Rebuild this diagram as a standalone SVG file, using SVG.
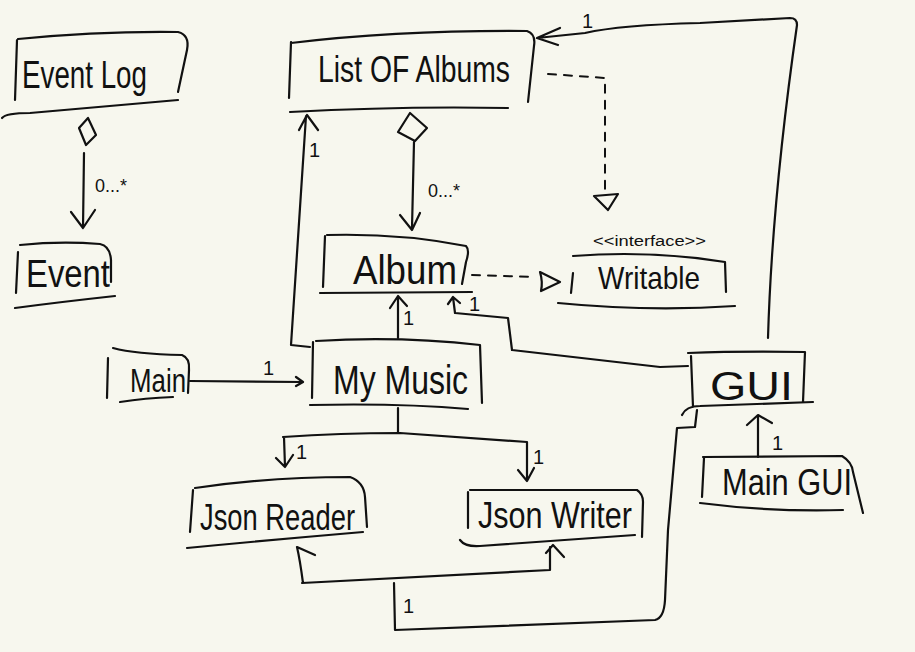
<svg xmlns="http://www.w3.org/2000/svg" width="915" height="652" viewBox="0 0 915 652">
<style>
.s{fill:none;stroke:#111;stroke-width:2.2;stroke-linecap:round;stroke-linejoin:round}
.d{fill:none;stroke:#111;stroke-width:2;stroke-linecap:round;stroke-dasharray:8 8}
.t{font-family:"Liberation Sans",Arial,sans-serif;fill:#111}
.n{font-family:"Liberation Sans",Arial,sans-serif;fill:#111;font-size:20px}
</style>
<rect width="915" height="652" fill="#f7f7ee"/>

<g id="eventlog">
<path class="s" d="M17,40 L15,100 M18,39 Q100,31 178,32 Q190,35 187,50 L178,92 M2,118 Q6,113 30,113 L178,100"/>
<text class="t" x="22" y="88" font-size="38" textLength="125" lengthAdjust="spacingAndGlyphs">Event Log</text>
</g>
<g id="event">
<path class="s" d="M18,252 L16,293 M20,245 Q60,241 100,244 Q110,246 111,260 L111,282 M15,308 Q60,302 115,296"/>
<text class="t" x="26" y="287" font-size="38" textLength="84" lengthAdjust="spacingAndGlyphs">Event</text>
</g>
<g id="listofalbums">
<path class="s" d="M291,42 L289,98 M291,43 Q400,30 527,31 Q536,34 534,46 L528,102 M290,112 Q400,106 508,108"/>
<text class="t" x="318" y="82" font-size="36" textLength="192" lengthAdjust="spacingAndGlyphs">List OF Albums</text>
</g>
<g id="album">
<path class="s" d="M325,236 L323,287 M327,235 Q400,233 466,246 Q470,250 466,262 L462,284 M320,293 L472,292"/>
<text class="t" x="353" y="284" font-size="40" textLength="104" lengthAdjust="spacingAndGlyphs">Album</text>
</g>
<g id="writable">
<text class="t" x="593" y="246" font-size="14" textLength="113" lengthAdjust="spacingAndGlyphs">&lt;&lt;interface&gt;&gt;</text>
<path class="s" d="M573,273 L571,293 M573,256 Q650,250 725,262 L726,292 M558,303 Q650,312 735,306"/>
<text class="t" x="598" y="289" font-size="32" textLength="102" lengthAdjust="spacingAndGlyphs">Writable</text>
</g>
<g id="mymusic">
<path class="s" d="M313,342 L312,398 M316,341 Q400,336 480,345 L482,403 M310,405 Q400,403 468,409"/>
<text class="t" x="333" y="394" font-size="40" textLength="135" lengthAdjust="spacingAndGlyphs">My Music</text>
</g>
<g id="main">
<path class="s" d="M108,358 L107,398 M113,348 Q135,354 182,355 Q190,358 189,370 L188,393 M120,402 Q145,398 173,397"/>
<text class="t" x="130" y="392" font-size="34" textLength="56" lengthAdjust="spacingAndGlyphs">Main</text>
</g>
<g id="gui">
<path class="s" d="M691,356 L693,407 M688,353 Q740,351 805,352 L803,402 M682,415 Q686,406 700,406 L813,402"/>
<text class="t" x="710" y="400" font-size="40" textLength="83" lengthAdjust="spacingAndGlyphs">GUI</text>
</g>
<g id="maingui">
<path class="s" d="M704,458 L702,497 M703,457 L842,456 Q852,462 853,472 L863,513 M700,503 Q770,512 843,510"/>
<text class="t" x="722" y="495" font-size="36" textLength="130" lengthAdjust="spacingAndGlyphs">Main GUI</text>
</g>
<g id="jsonreader">
<path class="s" d="M193,490 L190,532 M195,488 Q270,477 350,477 Q364,482 365,497 L367,527 M187,548 Q270,540 363,532"/>
<text class="t" x="200" y="530" font-size="36" textLength="155" lengthAdjust="spacingAndGlyphs">Json Reader</text>
</g>
<g id="jsonwriter">
<path class="s" d="M468,492 L468,528 M470,490 L637,490 Q643,494 643,502 L642,537 M460,540 Q465,547 480,546 L635,535"/>
<text class="t" x="478" y="528" font-size="36" textLength="154" lengthAdjust="spacingAndGlyphs">Json Writer</text>
</g>

<g id="connectors">
<path class="s" d="M88,118 L79,128 L86,145 L96,135 Z M84,153 L83,228 M71,212 L83,228 L95,210"/>
<text class="t" x="95" y="192" font-size="18">0...*</text>
<path class="s" d="M410,113 L398,132 L415,141 L427,128 Z M414,142 L412,228 M400,215 L412,230 L420,213"/>
<text class="t" x="428" y="197" font-size="18">0...*</text>
<path class="d" d="M548,74 L605,78 L605,190"/>
<path class="s" d="M594,196 L618,194 L608,210 Z"/>
<path class="d" d="M472,275 L533,277"/>
<path class="s" d="M540,272 L560,282 L541,291 Q543,282 540,272 Z"/>
<path class="s" d="M768,338 Q772,200 797,25 Q797,18 790,18 L700,23 Q620,25 585,33 L537,38 M560,28 L537,38 L558,45"/>
<text class="n" x="582" y="28">1</text>
<path class="s" d="M310,347 L291,345 L306,116 M299,130 L307,115 L318,130"/>
<text class="n" x="309" y="157">1</text>
<path class="s" d="M398,338 L398,297 M390,308 L398,296 L407,306"/>
<text class="n" x="403" y="325">1</text>
<path class="s" d="M688,366 L660,367 L512,350 L508,318 L455,313 L453,297 M448,304 L453,297 L460,303"/>
<text class="n" x="469" y="311">1</text>
<path class="s" d="M190,381 L302,382 M296,377 L303,382 L296,386"/>
<text class="n" x="263" y="375">1</text>
<path class="s" d="M398,408 L398,432 M283,437 Q340,433 400,433 L527,442 M284,437 L285,467 M276,458 L285,467 L293,455 M527,442 L527,480 M518,470 L527,481 L534,468"/>
<text class="n" x="296" y="459">1</text>
<text class="n" x="533" y="464">1</text>
<path class="s" d="M697,410 L695,427 L677,428 L668,530 L665,600 Q664,618 655,620 L395,630 L394,583 M302,583 L550,570 M303,583 Q300,560 297,547 L315,555 M550,570 L550,547 M546,553 L553,545 L564,557"/>
<text class="n" x="403" y="613">1</text>
<path class="s" d="M758,457 L758,415 M747,425 L758,415 L772,423"/>
<text class="n" x="772" y="450">1</text>
</g>
</svg>
